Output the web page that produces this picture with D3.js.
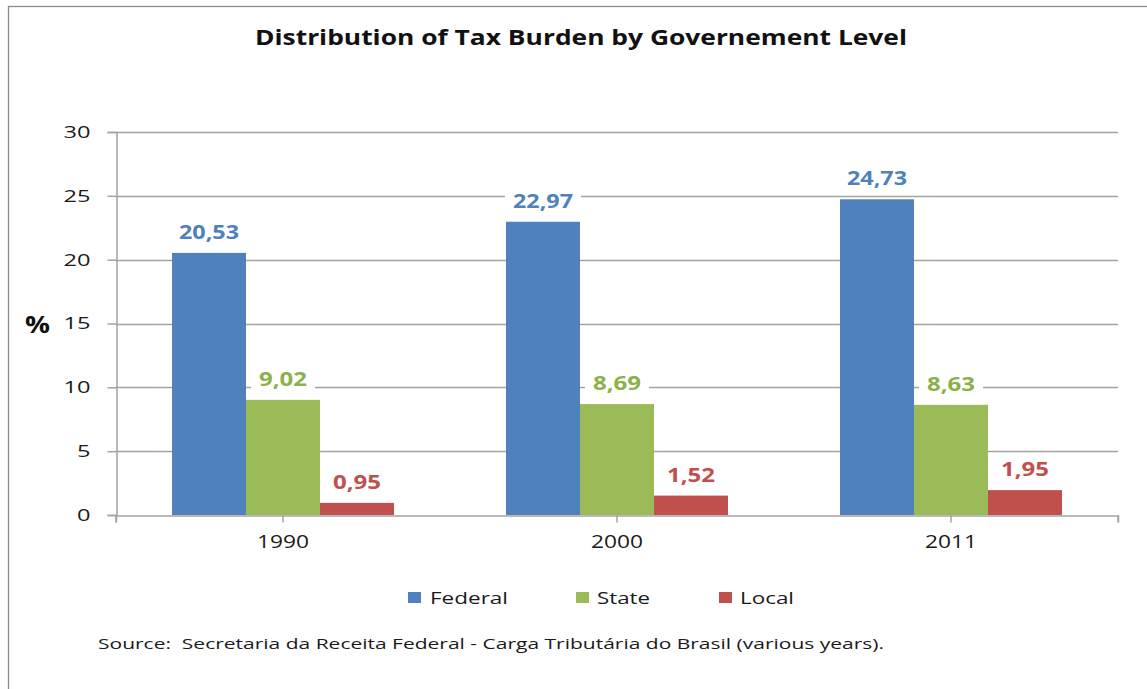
<!DOCTYPE html>
<html>
<head>
<meta charset="utf-8">
<script src="https://cdnjs.cloudflare.com/ajax/libs/d3/7.8.5/d3.min.js"></script>
<style>
  html, body { margin: 0; padding: 0; background: #fff; }
  svg { display: block; }
  text { font-family: "Open Sans", "DejaVu Sans", sans-serif; }
</style>
</head>
<body>
<svg id="chart" width="1147" height="689"></svg>
<script>
const categories = ["1990", "2000", "2011"];
const seriesNames = ["Federal", "State", "Local"];
const federal = [20.53, 22.97, 24.73];
const state = [9.02, 8.69, 8.63];
const local = [0.95, 1.52, 1.95];
const yTicks = [0, 5, 10, 15, 20, 25, 30];
const colors = ["#4F81BD", "#9BBB59", "#C0504D"];
const labelColors = ["#4F81BD", "#8CB04A", "#C0504D"];
const titleText = "Distribution of Tax Burden by Governement Level";
const sourceText = "Source:  Secretaria da Receita Federal - Carga Tributária do Brasil (various years).";

(function () {
const seriesValues = [federal, state, local];
const rows = [];
categories.forEach((c, ci) => {
  seriesNames.forEach((s, si) => rows.push({cat: c, series: s, si, value: seriesValues[si][ci]}));
});

const svg = d3.select("#chart");

// outer frame
svg.append("rect").attr("x", 8.5).attr("y", 6.5).attr("width", 1150).attr("height", 700)
  .attr("fill", "none").attr("stroke", "#8c8c8c").attr("stroke-width", 1.3);

const pLeft = 116, pRight = 1118, pTop = 132, pBottom = 515;

const y = d3.scaleLinear().domain([0, 30]).range([pBottom, pTop]);
const x0 = d3.scaleBand().domain(categories).range([pLeft, pRight]).paddingInner(0).paddingOuter(0);
const groupW = 222;
const x1 = d3.scaleBand().domain(seriesNames).range([0, groupW]).padding(0);

// gridlines
svg.append("g").selectAll("line").data(yTicks.filter(t => t > 0)).join("line")
  .attr("x1", pLeft).attr("x2", pRight)
  .attr("y1", d => Math.round(y(d)) + 0.5).attr("y2", d => Math.round(y(d)) + 0.5)
  .attr("stroke", "#a3a3a3").attr("stroke-width", 1.5);

// y axis
const yAxis = d3.axisLeft(y).tickValues(yTicks).tickSize(9).tickPadding(17).tickFormat(d3.format("d"));
const gy = svg.append("g").attr("transform", `translate(${pLeft + 0.5},0)`).call(yAxis);
gy.select(".domain").attr("stroke", "#a3a3a3").attr("stroke-width", 1.5);
gy.selectAll(".tick line").attr("stroke", "#a3a3a3").attr("stroke-width", 1.5);
gy.selectAll(".tick text").attr("font-size", 17).attr("fill", "#1a1a1a")
  .attr("font-family", '"Open Sans", sans-serif')
  .attr("textLength", d => String(d).length * 13.5).attr("lengthAdjust", "spacingAndGlyphs");

// bars
const bars = svg.append("g");
bars.selectAll("rect").data(rows).join("rect")
  .attr("x", d => x0(d.cat) + (x0.bandwidth() - groupW) / 2 + x1(d.series))
  .attr("y", d => y(d.value))
  .attr("width", x1.bandwidth())
  .attr("height", d => y(0) - y(d.value))
  .attr("fill", d => colors[d.si]);

// x axis
const xAxis = d3.axisBottom(x0).tickSize(7).tickPadding(13);
const gx = svg.append("g").attr("transform", `translate(0,${pBottom + 0.5})`).call(xAxis);
gx.select(".domain").attr("stroke", "#a3a3a3").attr("stroke-width", 1.5);
gx.selectAll(".tick line").attr("stroke", "#a3a3a3").attr("stroke-width", 1.5);
gx.selectAll(".tick text").attr("font-size", 18).attr("fill", "#1a1a1a")
  .attr("font-family", '"Open Sans", sans-serif')
  .attr("textLength", 52).attr("lengthAdjust", "spacingAndGlyphs");
// end ticks
gx.append("g").selectAll("line").data([pLeft, pRight]).join("line")
  .attr("x1", d => d).attr("x2", d => d).attr("y1", 0).attr("y2", 7)
  .attr("stroke", "#a3a3a3").attr("stroke-width", 1.5);

// value labels
const fmt = v => d3.format(".2f")(v).replace(".", ",");
const labels = svg.append("g").selectAll("g").data(rows).join("g")
  .attr("transform", d => `translate(${x0(d.cat) + (x0.bandwidth() - groupW) / 2 + x1(d.series) + x1.bandwidth() / 2},${y(d.value) - 14})`);
labels.append("rect").attr("x", d => -fmt(d.value).length * 6 - 8).attr("y", -20)
  .attr("width", d => fmt(d.value).length * 12 + 16).attr("height", 26).attr("fill", "#fff");
labels.append("text").attr("text-anchor", "middle").attr("font-size", 20).attr("font-weight", "bold")
  .attr("fill", d => labelColors[d.si])
  .attr("textLength", d => fmt(d.value).length * 12).attr("lengthAdjust", "spacingAndGlyphs")
  .text(d => fmt(d.value));

// title
svg.append("text").attr("x", 581).attr("y", 45).attr("text-anchor", "middle")
  .attr("font-size", 21).attr("font-weight", "bold").attr("fill", "#111")
  .attr("textLength", 652).attr("lengthAdjust", "spacingAndGlyphs").text(titleText);

// y title
svg.append("text").attr("x", 25).attr("y", 333)
  .attr("font-size", 23).attr("font-weight", "bold").attr("fill", "#111")
  .attr("textLength", 25).attr("lengthAdjust", "spacingAndGlyphs").text("%");

// legend
const legendPos = [{sx: 408, tx: 430, tw: 78}, {sx: 576, tx: 597, tw: 53}, {sx: 719, tx: 740, tw: 54}];
const lg = svg.append("g").selectAll("g").data(seriesNames).join("g");
lg.append("rect").attr("x", (d, i) => legendPos[i].sx).attr("y", 592).attr("width", 13).attr("height", 11)
  .attr("fill", (d, i) => colors[i]);
lg.append("text").attr("x", (d, i) => legendPos[i].tx).attr("y", 604).attr("font-size", 17).attr("fill", "#1a1a1a")
  .attr("textLength", (d, i) => legendPos[i].tw).attr("lengthAdjust", "spacingAndGlyphs").text(d => d);

// source
svg.append("text").attr("x", 98).attr("y", 649).attr("font-size", 15).attr("fill", "#1a1a1a")
  .style("white-space", "pre")
  .attr("textLength", 786).attr("lengthAdjust", "spacingAndGlyphs").text(sourceText);
})();
</script>
</body>
</html>
